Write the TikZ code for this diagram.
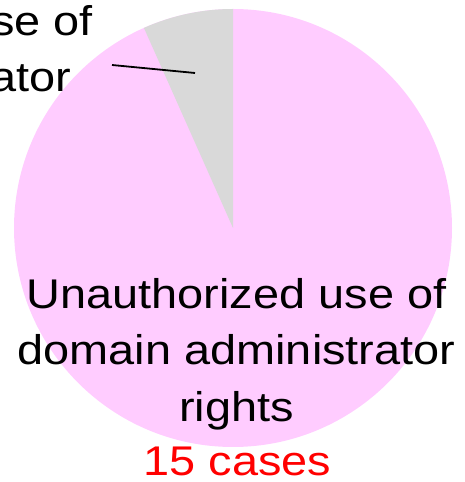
\documentclass[tikz,border=0pt]{standalone}
\usepackage{fontspec}
\setmainfont{Liberation Sans}
\definecolor{slicepink}{RGB}{255,204,255}
\definecolor{slicegray}{RGB}{217,217,217}
\definecolor{countred}{RGB}{255,0,0}
\begin{document}
\begin{tikzpicture}[x=1pt,y=1pt,
  lbl/.style={inner sep=0pt, outer sep=0pt, xscale=1.13,
    font=\fontsize{41.5}{57}\selectfont},
  leader/.style={draw=black, line width=1.8pt}]
\useasboundingbox (0,0) rectangle (464,482);
\clip (0,0) rectangle (464,482);
% pie: one large slice and one small slice starting at 12 o'clock
\coordinate (c) at (233,254);
\fill[slicepink] (c) circle[radius=219];
\fill[slicegray] (c) -- ++(90:219) arc[start angle=90, end angle=114, radius=219] -- cycle;
% label of the small slice (runs past the left edge)
\node[lbl, anchor=base east] (s1) at (93,446) {se of};
\node[lbl, anchor=base east] (s2) at (71,390) {ator};
\coordinate (ls) at (112,417);
\coordinate (le) at (195,409);
\draw[leader] (ls) -- (le);
% label of the large slice
\node[lbl, anchor=base] (b1) at (236.5,173.5) {Unauthorized use of};
\node[lbl, anchor=base] (b2) at (236.5,117.5) {domain administrator};
\node[lbl, anchor=base] (b3) at (236.5,60) {rights};
\node[lbl, anchor=base, text=countred] (b4) at (237.5,6) {15 cases};
\end{tikzpicture}
\end{document}
